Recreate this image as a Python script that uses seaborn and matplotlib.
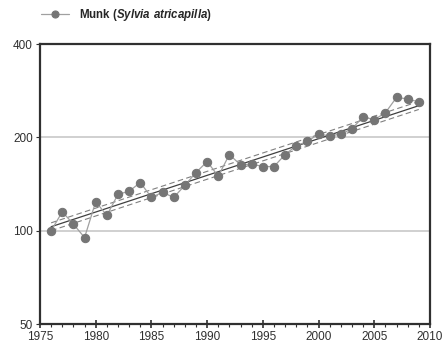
import numpy as np
import pandas as pd
import matplotlib
matplotlib.use("Agg")
import matplotlib.pyplot as plt
import seaborn as sns
from matplotlib.ticker import FixedLocator, NullFormatter, MultipleLocator

years = list(range(1976, 2010))
index = [100, 115, 105, 95, 124, 112, 131, 134, 143, 128,
         133, 128, 140, 154, 167, 150, 176, 163, 164, 161,
         161, 176, 188, 194, 205, 202, 205, 213, 233, 228,
         240, 269, 266, 260]

trend_years = [1976, 2009]
trend = [103, 253]
trend_low = [100, 246]
trend_high = [106, 261]

y_ticks = [50, 100, 200, 400]
x_ticks = [1975, 1980, 1985, 1990, 1995, 2000, 2005, 2010]

df = pd.DataFrame({"year": years, "index": index})

sns.set_style("white")
plt.rcParams["font.family"] = ["Liberation Sans", "DejaVu Sans"]
plt.rcParams["mathtext.fontset"] = "custom"
plt.rcParams["mathtext.rm"] = "Liberation Sans:bold"
plt.rcParams["mathtext.bfit"] = "Liberation Sans:italic:bold"

fig = plt.figure(figsize=(4.46, 3.54), dpi=100)
ax = fig.add_axes([0.0897, 0.0847, 0.8743, 0.791])

ax.set_yscale("log", base=2)
ax.set_ylim(50, 400)
ax.set_xlim(1975, 2010)

for v in [100, 200]:
    ax.axhline(v, color="#c8c8c8", lw=1.2, zorder=0)

ax.plot(trend_years, trend, color="#404040", lw=0.9, zorder=2)
ax.plot(trend_years, trend_low, color="#808080", lw=0.8, ls=(0, (5, 3)), zorder=2)
ax.plot(trend_years, trend_high, color="#808080", lw=0.8, ls=(0, (5, 3)), zorder=2)

sns.lineplot(data=df, x="year", y="index", ax=ax, color="#a0a0a0", lw=0.9,
             marker="o", markersize=6, markerfacecolor="#757575",
             markeredgecolor="#757575", zorder=3,
             label=r"Munk ($\mathbfit{Sylvia\ atricapilla}$)")

ax.yaxis.set_major_locator(FixedLocator(y_ticks))
ax.yaxis.set_major_formatter(plt.FixedFormatter([str(t) for t in y_ticks]))
ax.yaxis.set_minor_formatter(NullFormatter())
ax.yaxis.set_minor_locator(FixedLocator([]))
ax.xaxis.set_major_locator(FixedLocator(x_ticks))
ax.xaxis.set_minor_locator(MultipleLocator(1))

ax.set_xlabel("")
ax.set_ylabel("")
for s in ax.spines.values():
    s.set_color("#303030")
    s.set_linewidth(1.6)

ax.tick_params(axis="x", which="major", direction="inout", length=6, width=1.2,
               labelsize=8.5, colors="#303030", pad=2, bottom=True)
ax.tick_params(axis="x", which="minor", direction="out", length=2.5, width=0.8,
               colors="#303030", bottom=True)
ax.tick_params(axis="y", which="major", direction="out", length=3, width=0.8,
               labelsize=8.5, colors="#303030", pad=2, left=True)

leg = ax.legend(loc="upper left", bbox_to_anchor=(-0.025, 1.17), frameon=False,
                prop={"size": 8.3, "weight": "bold"}, handlelength=2.5,
                handletextpad=0.8, markerscale=0.85)

plt.savefig("out.png", dpi=100)
